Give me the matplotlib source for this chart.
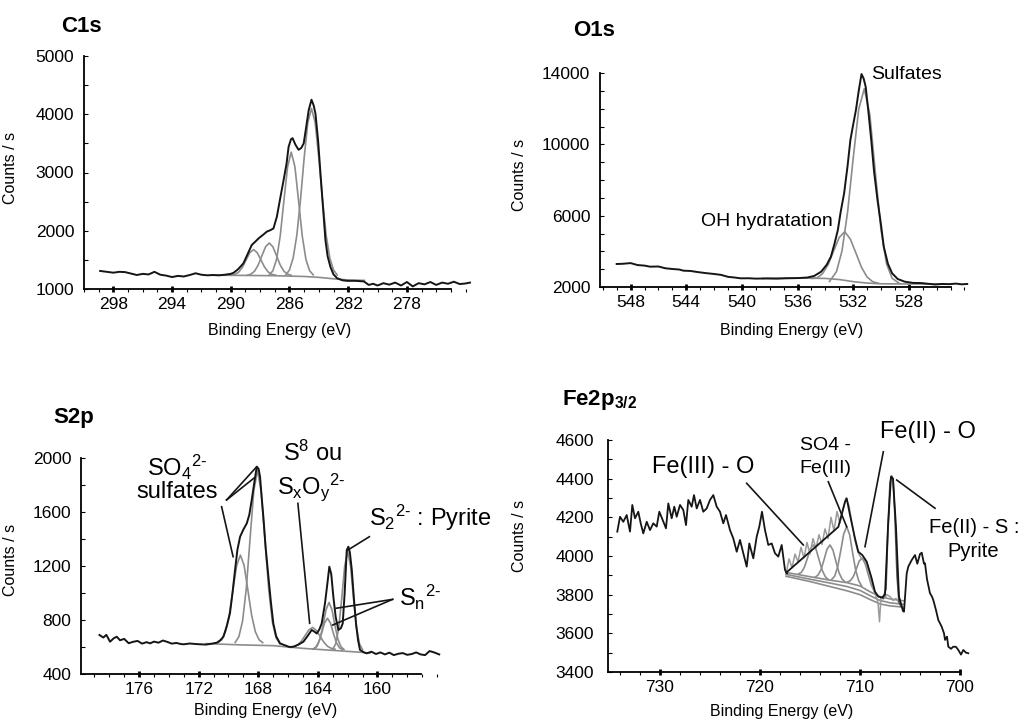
import matplotlib
matplotlib.use("Agg")
import matplotlib.pyplot as plt
from matplotlib.ticker import MultipleLocator, FixedLocator

plt.rcParams['font.family'] = ['Liberation Sans', 'DejaVu Sans']
plt.rcParams['mathtext.fontset'] = 'custom'
plt.rcParams['mathtext.rm'] = 'Liberation Sans'
plt.rcParams['mathtext.it'] = 'Liberation Sans:italic'
plt.rcParams['mathtext.bf'] = 'Liberation Sans:bold'
plt.rcParams['mathtext.default'] = 'regular'

BLACK = '#151515'
GRAY = '#8c8c8c'

# ================= C1s =================
c1s_x = [298.9, 298.6, 298.3, 298.0, 297.6, 297.2, 296.8, 296.4, 296.0, 295.6, 295.2, 294.8, 294.4,
         294.0, 293.6, 293.2, 292.8, 292.4, 292.0, 291.6, 291.2, 290.8, 290.4, 290.0, 289.8, 289.5,
         289.14, 288.85, 288.57, 288.3, 288.1, 287.8, 287.54, 287.3, 287.09, 286.86, 286.6, 286.4,
         286.2, 286.06, 285.9, 285.79, 285.6, 285.38, 285.2, 285.03, 284.85, 284.69, 284.5, 284.35,
         284.23, 284.05, 283.89, 283.7, 283.55, 283.4, 283.21, 283.0, 282.75, 282.4, 282.07, 281.5,
         280.93, 280.6, 280.3, 280.0, 279.6, 279.2, 278.8, 278.4, 278.0, 277.6, 277.2, 276.8, 276.4,
         276.0, 275.6, 275.2, 274.8, 274.4, 274.0, 273.7]
c1s_y = [1310, 1300, 1290, 1280, 1295, 1290, 1265, 1240, 1260, 1250, 1295, 1245, 1230,
         1205, 1225, 1215, 1240, 1270, 1245, 1235, 1240, 1235, 1245, 1260, 1280, 1340,
         1440, 1600, 1755, 1820, 1870, 1930, 1985, 2010, 2040, 2240, 2600, 2870,
         3150, 3440, 3570, 3590, 3480, 3390, 3420, 3500, 3800, 4070, 4250, 4150,
         4010, 3550, 2990, 2350, 1840, 1560, 1380, 1250, 1185, 1150, 1140, 1140,
         1130, 1070, 1090, 1060, 1100, 1075, 1110, 1060, 1120, 1045, 1100, 1080, 1120,
         1070, 1110, 1090, 1125, 1085, 1095, 1110]
c1s_base_x = [291.3, 289.0, 287.0, 285.0, 284.0, 283.0, 282.0, 280.9]
c1s_base_y = [1237, 1233, 1228, 1215, 1200, 1175, 1155, 1148]
c1s_pA_x = [289.95, 289.7, 289.45, 289.2, 288.95, 288.7, 288.45, 288.2, 287.95, 287.7, 287.45, 287.2, 286.95]
c1s_pA_y = [1237, 1252, 1292, 1377, 1502, 1624, 1677, 1624, 1502, 1377, 1292, 1252, 1237]
c1s_pB_x = [288.88, 288.63, 288.38, 288.13, 287.88, 287.63, 287.38, 287.13, 286.88, 286.63, 286.38, 286.13, 285.88]
c1s_pB_y = [1236, 1255, 1306, 1412, 1570, 1724, 1790, 1724, 1570, 1412, 1306, 1255, 1236]
c1s_pC_x = [287.38, 287.13, 286.88, 286.63, 286.38, 286.13, 285.88, 285.63, 285.38, 285.13, 284.88, 284.63, 284.38]
c1s_pC_y = [1243, 1314, 1508, 1912, 2513, 3099, 3350, 3099, 2513, 1912, 1508, 1314, 1243]
c1s_pD_x = [286.25, 286.0, 285.75, 285.5, 285.25, 285.0, 284.75, 284.5, 284.25, 284.0, 283.75, 283.5, 283.25, 283.0, 282.75]
c1s_pD_y = [1241, 1328, 1531, 1922, 2528, 3250, 3859, 4100, 3859, 3250, 2528, 1922, 1531, 1328, 1241]

# ================= O1s =================
o1s_x = [549.0, 548.6, 548.0, 547.5, 547.0, 546.6, 546.0, 545.5, 545.0, 544.5, 544.2, 543.7, 543.2,
         542.6, 542.0, 541.5, 541.0, 540.5, 540.1, 539.5, 539.0, 538.2, 537.5, 536.8, 536.0, 535.3,
         534.8, 534.3, 533.9, 533.6, 533.35, 533.1, 532.9, 532.65, 532.4, 532.2, 532.0, 531.8, 531.6,
         531.4, 531.25, 531.1, 530.9, 530.7, 530.5, 530.25, 530.0, 529.8, 529.5, 529.2, 528.8, 528.3,
         527.7, 527.1, 526.6, 526.1, 525.6, 525.1, 524.6, 524.2, 523.8]
o1s_y = [3290, 3300, 3340, 3230, 3200, 3140, 3150, 3050, 3010, 2980, 2915, 2900, 2840,
         2780, 2730, 2680, 2570, 2530, 2487, 2490, 2470, 2480, 2470, 2490, 2500, 2530,
         2620, 2860, 3250, 3700, 4400, 5196, 6200, 7253, 8800, 10240, 11100, 11925, 13000,
         13940, 13700, 13230, 11800, 10240, 8500, 6880, 5500, 4260, 3300, 2770, 2450, 2300,
         2230, 2220, 2180, 2140, 2170, 2160, 2190, 2150, 2170]
o1s_yticks = [2000, 6000, 10000, 14000]
o1s_base_x = [538.5, 535.5, 534.0, 533.0, 532.0, 531.0, 530.0, 528.0, 525.5]
o1s_base_y = [2480, 2500, 2480, 2420, 2300, 2220, 2180, 2170, 2170]
o1s_sulf_x = [533.7, 533.2, 532.8, 532.4, 532.0, 531.6, 531.2, 530.8, 530.4, 530.0, 529.6, 529.2, 528.7]
o1s_sulf_y = [2310, 2860, 4030, 6210, 9200, 11970, 13120, 11660, 8370, 5215, 3298, 2488, 2214]
o1s_oh_x = [535.0, 534.6, 534.2, 533.8, 533.4, 533.0, 532.6, 532.2, 531.8, 531.4, 531.0, 530.6, 530.2]
o1s_oh_y = [2480, 2500, 2750, 3250, 4030, 4780, 5100, 4680, 3900, 3100, 2560, 2300, 2210]

# ================= S2p =================
s2p_x = [178.66, 178.4, 178.2, 177.95, 177.7, 177.5, 177.28, 177.0, 176.7, 176.38, 176.1, 175.8,
         175.5, 175.26, 175.0, 174.7, 174.4, 174.14, 173.8, 173.5, 173.2, 173.0, 172.6, 172.2,
         171.9, 171.5, 171.1, 170.78, 170.55, 170.34, 170.1, 169.9, 169.73, 169.56, 169.4, 169.22,
         169.0, 168.77, 168.6, 168.44, 168.25, 168.1, 167.98, 167.88, 167.78, 167.66, 167.5, 167.32,
         167.15, 166.99, 166.8, 166.54, 166.2, 165.9, 165.64, 165.3, 164.97, 164.7, 164.41, 164.25,
         164.07, 163.9, 163.74, 163.52, 163.35, 163.23, 163.1, 162.96, 162.8, 162.62, 162.45, 162.33,
         162.2, 162.06, 161.95, 161.85, 161.72, 161.58, 161.44, 161.3, 161.17, 160.9, 160.72, 160.4,
         160.1, 159.8, 159.5, 159.2, 158.9, 158.6, 158.3, 158.0, 157.7, 157.4, 157.1, 156.8, 156.5,
         156.2, 155.85]
s2p_y = [689, 670, 690, 639, 665, 676, 650, 660, 628, 639, 645, 625,
         636, 627, 640, 632, 648, 639, 625, 630, 622, 620, 626, 622,
         620, 618, 625, 632, 650, 676, 760, 850, 1000, 1170, 1320, 1417,
         1470, 1516, 1580, 1689, 1830, 1936, 1920, 1861, 1720, 1565, 1330, 1121,
         930, 775, 680, 627, 612, 600, 602, 618, 639, 680, 726, 715,
         700, 730, 775, 924, 1080, 1195, 1140, 973, 820, 726, 740, 775,
         1000, 1318, 1343, 1300, 1170, 960, 775, 650, 578, 560, 553, 565,
         548, 560, 545, 558, 540, 550, 555, 542, 548, 560, 545, 540, 570,
         560, 545]
s2p_base_x = [171.5, 169.0, 167.0, 165.0, 163.0, 161.0, 160.5]
s2p_base_y = [625, 615, 610, 590, 575, 560, 555]
s2p_sulf1_x = [170.7, 170.45, 170.2, 169.95, 169.7, 169.45, 169.2, 168.95, 168.7, 168.45, 168.2, 167.95, 167.7]
s2p_sulf1_y = [632, 654, 714, 838, 1023, 1204, 1281, 1204, 1023, 838, 714, 654, 632]
s2p_sulf2_x = [169.55, 169.3, 169.05, 168.8, 168.55, 168.3, 168.05, 167.8, 167.55, 167.3, 167.05, 166.8, 166.55]
s2p_sulf2_y = [634, 677, 794, 1039, 1403, 1758, 1910, 1748, 1393, 1029, 784, 667, 624]
s2p_s8_x = [165.85, 165.6, 165.35, 165.1, 164.85, 164.6, 164.35, 164.1, 163.85, 163.6, 163.35, 163.1, 162.85]
s2p_s8_y = [597, 602, 615, 644, 686, 727, 745, 723, 680, 636, 605, 590, 584]
s2p_sn1_x = [164.25, 164.05, 163.85, 163.65, 163.45, 163.25, 163.05, 162.85, 162.65, 162.45, 162.25]
s2p_sn1_y = [586, 606, 661, 762, 877, 930, 875, 758, 657, 602, 582]
s2p_sn2_x = [164.35, 164.15, 163.95, 163.75, 163.55, 163.35, 163.15, 162.95, 162.75, 162.55, 162.35]
s2p_sn2_y = [584, 597, 634, 701, 778, 813, 776, 699, 632, 594, 580]
s2p_pyr_x = [163.0, 162.8, 162.6, 162.4, 162.2, 162.0, 161.8, 161.6, 161.4, 161.2, 161.0]
s2p_pyr_y = [583, 624, 740, 955, 1198, 1310, 1196, 953, 737, 622, 581]

# ================= Fe2p3/2 =================
fe_left_x = [734.27, 734.0, 733.67, 733.33, 733.0, 732.77, 732.5, 732.17, 731.93, 731.67, 731.33,
             731.0, 730.67, 730.33, 730.07, 729.73, 729.4, 729.17, 728.83, 728.57, 728.33, 728.0,
             727.67, 727.4, 727.17, 726.83, 726.6, 726.33, 726.0, 725.67, 725.33, 725.0, 724.67,
             724.33, 724.0, 723.67, 723.4, 723.0, 722.67, 722.33, 722.0, 721.67, 721.33, 721.07,
             720.67, 720.33, 720.07, 719.8, 719.5, 719.17, 718.83, 718.5, 718.17, 717.83, 717.5, 717.3]
fe_left_y = [4126, 4203, 4177, 4212, 4126, 4264, 4195, 4229, 4169, 4117, 4177,
             4134, 4169, 4152, 4229, 4186, 4143, 4272, 4195, 4255, 4203, 4264,
             4238, 4160, 4290, 4255, 4315, 4246, 4290, 4229, 4246, 4290, 4315,
             4255, 4229, 4169, 4212, 4134, 4091, 4022, 4083, 4014, 3945, 4065,
             3988, 4100, 4152, 4229, 4134, 4057, 4065, 4014, 3997, 4057, 3928, 3910]
fe_raw_x = [717.4, 717.1, 716.8, 716.5, 716.2, 715.9, 715.6, 715.3, 715.0, 714.7, 714.4, 714.1,
            713.8, 713.5, 713.2, 712.9, 712.6, 712.3, 712.0, 711.7, 711.4, 711.1, 710.8, 710.5,
            710.2, 709.9, 709.6, 709.3, 709.0, 708.7, 708.4, 708.2, 708.05, 707.9, 707.6, 707.3,
            707.0, 706.7, 706.4, 706.1, 705.8, 705.6]
fe_raw_y = [3905, 3985, 3940, 4010, 3970, 4045, 3990, 4070, 4010, 4090, 4040, 4110,
            4060, 4140, 4090, 4200, 4130, 4230, 4170, 4240, 4300, 4260, 4170, 4080,
            4020, 3990, 3985, 3950, 3900, 3840, 3790, 3760, 3660, 3790, 3780, 3800,
            3790, 3770, 3780, 3760, 3740, 3720]
fe_env_x = [717.35, 712.17, 711.5, 711.33, 711.0, 710.5, 710.17, 709.77, 709.33, 708.83, 708.5,
            708.17, 707.8, 707.5, 707.2, 706.9, 706.7, 706.4, 706.1, 705.7, 705.6, 705.33, 705.17,
            704.83, 704.5, 704.27, 704.0, 703.83, 703.6, 703.5, 703.3, 703.0, 702.8, 702.67, 702.4,
            702.17, 702.0, 701.83, 701.6, 701.5, 701.3, 701.17, 700.9, 700.67, 700.4, 700.17,
            699.9, 699.67, 699.4, 699.17]
fe_env_y = [3915, 4150, 4280, 4298, 4212, 4091, 4022, 4005, 3971, 3884, 3815,
            3790, 3785, 3800, 4150, 4410, 4400, 4150, 3790, 3715, 3712, 3910, 3945,
            3979, 4005, 3960, 4010, 4017, 3960, 3962, 3880, 3807, 3790, 3772, 3720,
            3669, 3652, 3634, 3600, 3566, 3583, 3531, 3520, 3531, 3530, 3514,
            3490, 3514, 3500, 3497]
fe_base_x = [717.4, 715.0, 713.0, 711.3, 710.0, 709.0, 708.0, 707.0, 705.6]
fe_base1_y = [3915, 3893, 3875, 3862, 3845, 3815, 3790, 3778, 3768]
fe_base2_y = [3905, 3880, 3860, 3842, 3822, 3795, 3770, 3758, 3750]
fe_base3_y = [3895, 3868, 3842, 3820, 3800, 3775, 3752, 3742, 3735]
fe_g1_x = [716.17, 715.87, 715.57, 715.27, 714.97, 714.67, 714.37, 714.07, 713.77, 713.47, 713.17]
fe_g1_y = [3907, 3915, 3941, 3986, 4036, 4057, 4031, 3976, 3925, 3893, 3878]
fe_g2_x = [714.5, 714.2, 713.9, 713.6, 713.3, 713.0, 712.7, 712.4, 712.1, 711.8, 711.5]
fe_g2_y = [3890, 3901, 3929, 3980, 4035, 4057, 4030, 3970, 3914, 3881, 3866]
fe_g3_x = [712.83, 712.53, 712.23, 711.93, 711.63, 711.33, 711.03, 710.73, 710.43, 710.13, 709.83]
fe_g3_y = [3879, 3896, 3944, 4026, 4114, 4152, 4109, 4014, 3926, 3872, 3845]
fe_g4_x = [711.27, 710.97, 710.67, 710.37, 710.07, 709.77, 709.47, 709.17, 708.87, 708.57, 708.27]
fe_g4_y = [3865, 3872, 3893, 3933, 3975, 3988, 3958, 3903, 3850, 3817, 3800]
fe_pyr_x = [707.7, 707.4, 707.2, 707.0, 706.85, 706.7, 706.5, 706.3, 706.1, 705.9]
fe_pyr_y = [3780, 3830, 4150, 4380, 4414, 4400, 4200, 3900, 3760, 3740]

fig = plt.figure(figsize=(10.22, 7.2), dpi=100)


def style(ax, xlim, xbounds, ylim, xmin, ymin, ylab_pad):
    ax.set_xlim(*xlim)
    ax.set_ylim(*ylim)
    for s in ['top', 'right']:
        ax.spines[s].set_visible(False)
    ax.spines['bottom'].set_bounds(*xbounds)
    ax.spines['left'].set_linewidth(1.3)
    ax.spines['bottom'].set_linewidth(1.3)
    ax.xaxis.set_minor_locator(MultipleLocator(xmin))
    ax.yaxis.set_minor_locator(MultipleLocator(ymin))
    ax.tick_params(axis='x', which='major', direction='inout', length=5, width=2, labelsize=12.5, pad=3)
    ax.tick_params(axis='x', which='minor', direction='out', length=2.5, width=0.8)
    ax.tick_params(axis='y', which='major', direction='in', length=3, width=0.8, labelsize=12.5, pad=ylab_pad)
    ax.tick_params(axis='y', which='minor', direction='in', length=3, width=0.8)
    ax.set_ylabel('Counts / s', fontsize=11.5)
    ax.set_xlabel('Binding Energy (eV)', fontsize=11.5, va='center')


SUP = r'$^{2\text{-}}$'

# ---- C1s
ax1 = fig.add_axes([84 / 1022, 1 - 289 / 720, 386 / 1022, 233 / 720])
ax1.plot(c1s_base_x, c1s_base_y, color=GRAY, lw=1.2)
for px, py in [(c1s_pA_x, c1s_pA_y), (c1s_pB_x, c1s_pB_y), (c1s_pC_x, c1s_pC_y), (c1s_pD_x, c1s_pD_y)]:
    ax1.plot(px, py, color=GRAY, lw=1.2)
ax1.plot(c1s_x, c1s_y, color=BLACK, lw=1.4, clip_on=False)
style(ax1, (300, 273.7), (275, 300), (1000, 5000), 1, 500, 7)
ax1.xaxis.set_major_locator(FixedLocator([298, 294, 290, 286, 282, 278]))
ax1.yaxis.set_major_locator(MultipleLocator(1000))
ax1.yaxis.set_label_coords(-0.171, 0.519)
ax1.xaxis.set_label_coords(0.508, -0.176)

# ---- O1s
ax2 = fig.add_axes([600 / 1022, 1 - 287 / 720, 370 / 1022, 214 / 720])
ax2.plot(o1s_base_x, o1s_base_y, color=GRAY, lw=1.2)
ax2.plot(o1s_oh_x, o1s_oh_y, color=GRAY, lw=1.2)
ax2.plot(o1s_sulf_x, o1s_sulf_y, color=GRAY, lw=1.2)
ax2.plot(o1s_x, o1s_y, color=BLACK, lw=1.4, clip_on=False)
style(ax2, (550.2, 523.6), (525, 550.2), (2000, 14000), 1, 1000, 7)
ax2.xaxis.set_major_locator(FixedLocator([548, 544, 540, 536, 532, 528]))
ax2.yaxis.set_major_locator(FixedLocator(o1s_yticks))
ax2.yaxis.set_label_coords(-0.197, 0.523)
ax2.xaxis.set_label_coords(0.519, -0.201)
ax2.text(530.73, 13943, 'Sulfates', fontsize=14, ha='left', va='center')
ax2.text(542.96, 5700, 'OH hydratation', fontsize=14, ha='left', va='center')

# ---- S2p
ax3 = fig.add_axes([81 / 1022, 1 - 674 / 720, 359 / 1022, 216 / 720])
ax3.plot(s2p_base_x, s2p_base_y, color=GRAY, lw=1.2)
for px, py in [(s2p_sulf1_x, s2p_sulf1_y), (s2p_sulf2_x, s2p_sulf2_y), (s2p_s8_x, s2p_s8_y),
               (s2p_sn1_x, s2p_sn1_y), (s2p_sn2_x, s2p_sn2_y), (s2p_pyr_x, s2p_pyr_y)]:
    ax3.plot(px, py, color=GRAY, lw=1.2)
ax3.plot(s2p_x, s2p_y, color=BLACK, lw=1.4, clip_on=False)
style(ax3, (179.9, 155.8), (157.1, 179.9), (400, 2000), 1, 200, 7)
ax3.xaxis.set_major_locator(FixedLocator([176, 172, 168, 164, 160]))
ax3.yaxis.set_major_locator(MultipleLocator(400))
ax3.yaxis.set_label_coords(-0.175, 0.528)
ax3.xaxis.set_label_coords(0.513, -0.167)
afs = 17
ax3.text(173.46, 1933, r'SO$_4$' + SUP, fontsize=afs, ha='center', va='center')
ax3.text(173.46, 1748, 'sulfates', fontsize=afs, ha='center', va='center')
ax3.text(166.36, 2037, r'S$^8$ ou', fontsize=afs, ha='left', va='center')
ax3.text(166.76, 1785, r'S$_x$O$_y$' + SUP, fontsize=afs, ha='left', va='center')
ax3.text(160.54, 1555, r'S$_2$' + SUP + ' : Pyrite', fontsize=afs, ha='left', va='center')
ax3.text(158.53, 970, r'S$_n$' + SUP, fontsize=afs, ha='left', va='center')
for (xa, ya), (xb, yb) in [((170.13, 1689), (168.15, 1930)), ((170.13, 1689), (168.3, 1850)),
                           ((170.46, 1639), (169.69, 1269)), ((165.34, 1664), (164.55, 776)),
                           ((160.54, 1417), (161.99, 1318)), ((158.98, 953), (162.77, 887)),
                           ((158.98, 953), (163.0, 763))]:
    ax3.plot([xa, xb], [ya, yb], color=BLACK, lw=1.2, clip_on=False)

# ---- Fe2p3/2
ax4 = fig.add_axes([608 / 1022, 1 - 672 / 720, 364 / 1022, 232 / 720])
for by in [fe_base1_y, fe_base2_y, fe_base3_y]:
    ax4.plot(fe_base_x, by, color=GRAY, lw=1.2)
for px, py in [(fe_g1_x, fe_g1_y), (fe_g2_x, fe_g2_y), (fe_g3_x, fe_g3_y), (fe_g4_x, fe_g4_y)]:
    ax4.plot(px, py, color=GRAY, lw=1.2)
ax4.plot(fe_raw_x, fe_raw_y, color='#9a9a9a', lw=1.1)
ax4.plot(fe_pyr_x, fe_pyr_y, color='#555555', lw=1.2)
ax4.plot(fe_left_x, fe_left_y, color=BLACK, lw=1.3)
ax4.plot(fe_env_x, fe_env_y, color=BLACK, lw=1.3, clip_on=False)
style(ax4, (735.2, 698.8), (700, 735.2), (3400, 4600), 2, 100, 10)
ax4.xaxis.set_major_locator(MultipleLocator(10))
ax4.yaxis.set_major_locator(MultipleLocator(200))
ax4.yaxis.set_label_coords(-0.2225, 0.586)
ax4.xaxis.set_label_coords(0.478, -0.172)
ax4.text(725.65, 4460, 'Fe(III) - O', fontsize=17, ha='center', va='center')
ax4.text(713.5, 4574, 'SO4 -', fontsize=14, ha='center', va='center')
ax4.text(713.5, 4455, 'Fe(III)', fontsize=14, ha='center', va='center')
ax4.text(703.25, 4641, 'Fe(II) - O', fontsize=17, ha='center', va='center')
ax4.text(698.6, 4145, 'Fe(II) - S :', fontsize=14.5, ha='center', va='center')
ax4.text(698.7, 4021, 'Pyrite', fontsize=14.5, ha='center', va='center')
for (xa, ya), (xb, yb) in [((721.33, 4376), (715.67, 4057)), ((713.17, 4384), (711.33, 4151)),
                           ((707.67, 4539), (709.5, 4048)), ((706.33, 4393), (702.5, 4247))]:
    ax4.plot([xa, xb], [ya, yb], color=BLACK, lw=1.2, clip_on=False)

# panel titles
fig.text(61 / 1022, 1 - 27 / 720, 'C1s', fontsize=16, fontweight='bold', ha='left', va='center')
fig.text(573 / 1022, 1 - 30 / 720, 'O1s', fontsize=16, fontweight='bold', ha='left', va='center')
fig.text(53 / 1022, 1 - 417 / 720, 'S2p', fontsize=16, fontweight='bold', ha='left', va='center')
fig.text(562 / 1022, 1 - 400 / 720, r'$\mathbf{Fe2p_{3/2}}$', fontsize=16, ha='left', va='center')

fig.savefig('out.png', dpi=100)
